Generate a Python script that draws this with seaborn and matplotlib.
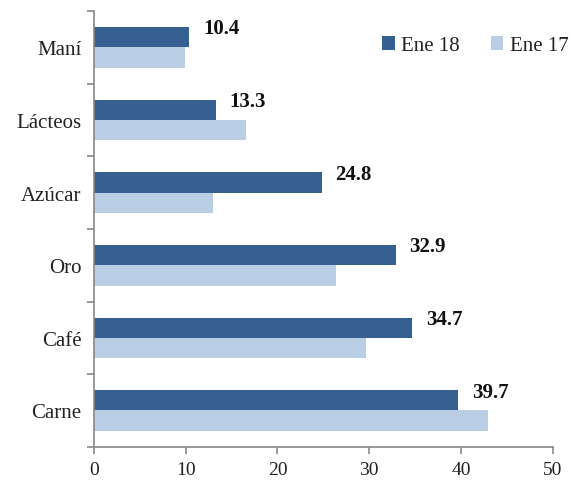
import matplotlib
matplotlib.use("Agg")
import matplotlib.pyplot as plt
import seaborn as sns
import pandas as pd
from matplotlib.ticker import FixedLocator

categories = ["Maní", "Lácteos", "Azúcar", "Oro", "Café", "Carne"]
ene18 = [10.4, 13.3, 24.8, 32.9, 34.7, 39.7]
ene17 = [9.9, 16.6, 13.0, 26.4, 29.6, 42.9]
series = ["Ene 18", "Ene 17"]
colors = ["#376092", "#B9CDE5"]
xticks = [0, 10, 20, 30, 40, 50]

df = pd.DataFrame({
    "cat": categories * 2,
    "val": ene18 + ene17,
    "serie": [series[0]] * len(categories) + [series[1]] * len(categories),
})

sns.set_theme(style="white")
FAM = ["Liberation Serif", "DejaVu Serif"]
plt.rcParams["font.family"] = FAM

fig = plt.figure(figsize=(5.71, 4.81), dpi=100)
ax = fig.add_axes([0.1646, 0.069, 0.8034, 0.906])

sns.barplot(data=df, x="val", y="cat", hue="serie", order=categories,
            hue_order=series, palette=colors, orient="h", width=0.56,
            saturation=1, errorbar=None, ax=ax, linewidth=0)

ax.set_xlim(0, 50)
ax.set_ylim(5.5, -0.5)
ax.set_xticks(xticks)
ax.set_xticklabels([str(t) for t in xticks], fontsize=14, family=FAM, color="#222222")
ax.set_yticks(range(len(categories)))
ax.set_yticklabels(categories, fontsize=15, family=FAM, color="#222222")
ax.set_xlabel("")
ax.set_ylabel("")
ax.tick_params(axis="y", which="major", length=0, pad=9)
ax.yaxis.set_minor_locator(FixedLocator([i - 0.5 for i in range(len(categories) + 1)]))
ax.tick_params(axis="y", which="minor", length=5, width=1.2, color="#888888", direction="out", left=True)
ax.tick_params(axis="x", which="major", length=5, width=1.2, color="#888888", direction="out", bottom=True, pad=5)
for s in ["top", "right"]:
    ax.spines[s].set_visible(False)
for s in ["left", "bottom"]:
    ax.spines[s].set_color("#888888")
    ax.spines[s].set_linewidth(1.2)

# value labels for Ene 18
for i, v in enumerate(ene18):
    ax.text(v + 1.5, i - 0.26, f"{v:.1f}", fontsize=15, fontweight="bold",
            family=FAM, ha="left", va="center", color="#111111")

leg = ax.legend(ncol=2, frameon=False, loc="upper right", bbox_to_anchor=(1.075, 0.985),
                prop={"family": FAM, "size": 15}, handlelength=0.6, handleheight=0.6,
                handletextpad=0.3, columnspacing=1.5)
for t in leg.get_texts():
    t.set_color("#222222")

fig.savefig("out.png", dpi=100)
